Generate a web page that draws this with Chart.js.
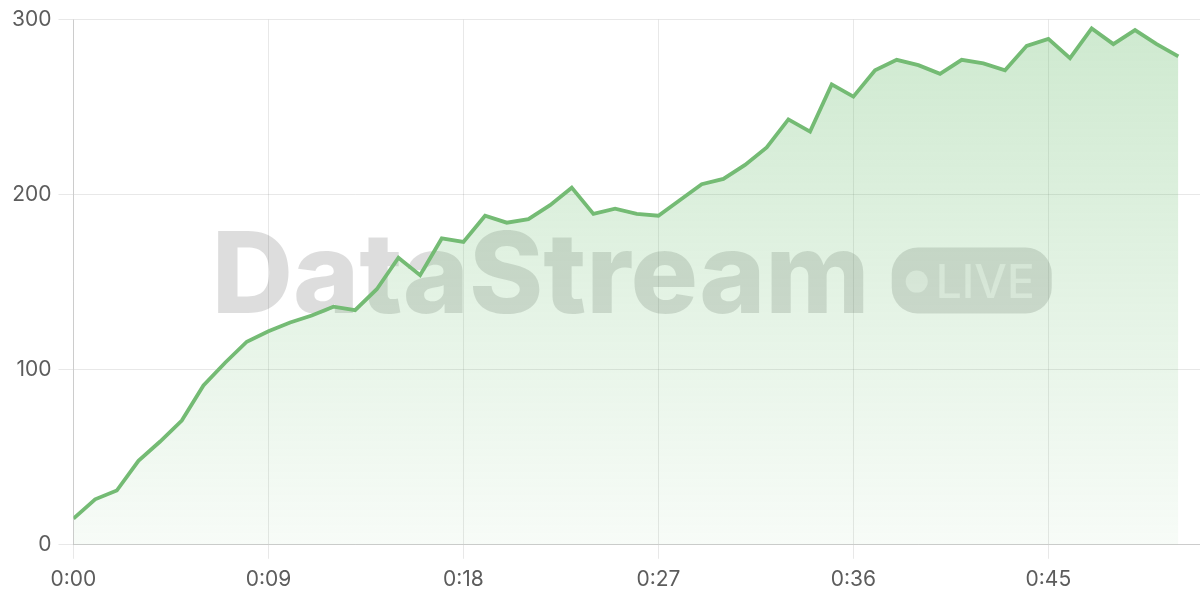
<!DOCTYPE html>
<html lang="en">
<head>
    <meta charset="UTF-8">
    <title>DataStream LIVE</title>
    <script src="https://cdn.jsdelivr.net/npm/chart.js"></script>
    <style>
        body { margin: 0; background: #fff; }
        #wrap { width: 1200px; height: 600px; position: relative; }
    </style>
</head>
<body>

    <div id="wrap"><canvas id="grafico"></canvas></div>

    <script>
        // minutes since start, one reading per minute
        const minutes = [];
        for (let m = 0; m <= 51; m++) minutes.push(m);

        const values = [
            15, 26, 31, 48, 59, 71, 91, 104, 116, 122,
            127, 131, 136, 134, 146, 164, 154, 175, 173, 188,
            184, 186, 194, 204, 189, 192, 189, 188, 197, 206,
            209, 217, 227, 243, 236, 263, 256, 271, 277, 274,
            269, 277, 275, 271, 285, 289, 278, 295, 286, 294,
            286, 279
        ];

        const xTickValues = [0, 9, 18, 27, 36, 45];
        const xTickLabels = ['0:00', '0:09', '0:18', '0:27', '0:36', '0:45'];
        const yTickValues = [0, 100, 200, 300];

        const lineColor = 'rgb(116, 187, 116)';

        // watermark behind the line
        const watermark = {
            id: 'watermark',
            beforeDatasetsDraw(chart) {
                const ctx = chart.ctx;
                const area = chart.chartArea;
                const cx = (area.left + area.right) / 2 - 5;
                const baseY = area.top + 293;
                ctx.save();

                ctx.font = '800 100px Inter';
                const w = ctx.measureText('DataStream').width;
                const size = 100 * 658 / w;
                ctx.font = '800 ' + size + 'px Inter';
                ctx.textBaseline = 'alphabetic';
                ctx.textAlign = 'left';
                ctx.fillStyle = 'rgba(0, 0, 0, 0.135)';
                const left = cx - 420;
                ctx.fillText('DataStream', left, baseY);

                // LIVE pill
                const px = left + 680, py = baseY - 65, pw = 160, ph = 66;
                ctx.beginPath();
                ctx.roundRect(px, py, pw, ph, 26);
                ctx.fill();

                ctx.fillStyle = 'rgba(255, 255, 255, 0.55)';
                ctx.beginPath();
                ctx.arc(px + 25, py + 34, 11, 0, Math.PI * 2);
                ctx.fill();
                ctx.font = '500 46px Inter';
                ctx.fillText('LIVE', px + 44, py + 50);
                ctx.restore();
            }
        };

        const ctx = document.getElementById('grafico').getContext('2d');
        const fondo = ctx.createLinearGradient(0, 19, 0, 544);
        fondo.addColorStop(0, 'rgba(102, 187, 106, 0.32)');
        fondo.addColorStop(1, 'rgba(102, 187, 106, 0.05)');

        Chart.defaults.font.family = 'Inter';
        Chart.defaults.font.size = 21;
        Chart.defaults.color = '#5c5c5c';

        new Chart(ctx, {
            type: 'line',
            data: {
                datasets: [{
                    data: minutes.map((m, i) => ({ x: m, y: values[i] })),
                    borderColor: lineColor,
                    backgroundColor: fondo,
                    borderWidth: 3.8,
                    fill: 'origin',
                    tension: 0,
                    pointRadius: 0
                }]
            },
            options: {
                responsive: true,
                maintainAspectRatio: false,
                animation: false,
                layout: { padding: { top: 6, right: 0, bottom: 0, left: 5 } },
                plugins: { legend: { display: false }, tooltip: { enabled: false } },
                scales: {
                    x: {
                        type: 'linear',
                        min: 0,
                        max: 52,
                        afterBuildTicks: s => { s.ticks = xTickValues.map(v => ({ value: v })); },
                        ticks: {
                            callback: v => xTickLabels[xTickValues.indexOf(v)],
                            padding: 8,
                            maxRotation: 0
                        },
                        grid: { color: 'rgba(0,0,0,0.09)', tickLength: 14 },
                        border: { color: 'rgba(0,0,0,0.12)' }
                    },
                    y: {
                        min: 0,
                        max: 300,
                        afterBuildTicks: s => { s.ticks = yTickValues.map(v => ({ value: v })); },
                        ticks: { padding: 7 },
                        grid: { color: 'rgba(0,0,0,0.09)', tickLength: 15 },
                        border: { color: 'rgba(0,0,0,0.12)' }
                    }
                }
            },
            plugins: [watermark]
        });
    </script>

</body>
</html>
